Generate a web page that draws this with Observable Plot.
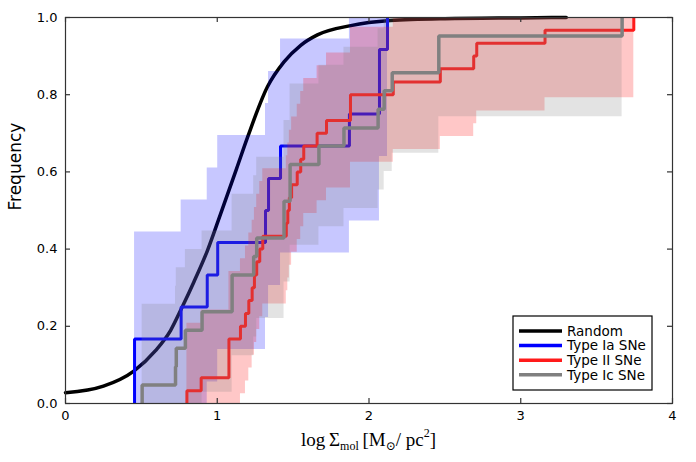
<!DOCTYPE html>
<html><head><meta charset="utf-8">
<script src="https://cdn.jsdelivr.net/npm/d3@7"></script>
<script src="https://cdn.jsdelivr.net/npm/@observablehq/plot@0.6"></script>
<style>body{margin:0;background:#fff;}</style>
</head><body><div id="chart"></div>
<script>
const xTicks = [0, 1, 2, 3, 4];
const yTicks = [0, 0.2, 0.4, 0.6, 0.8, 1.0];

// Random (black smooth CDF)
const randomX = [0, 0.25, 0.45, 0.593, 0.692, 0.769, 0.846, 0.934, 1.021, 1.127, 1.2, 1.33, 1.44, 1.55, 1.66, 1.88, 2.14, 2.5, 3.0, 3.3];
const randomY = [0.028, 0.045, 0.084, 0.137, 0.189, 0.25, 0.315, 0.395, 0.49, 0.608, 0.69, 0.82, 0.885, 0.928, 0.955, 0.979, 0.992, 0.997, 0.999, 1.0];

// Type Ia SNe
const iaX  = [0.455, 0.762, 0.934, 1.003, 1.318, 1.338, 1.417, 1.871, 2.069, 2.122];
const iaF  = [0.167, 0.25, 0.333, 0.417, 0.5, 0.583, 0.667, 0.75, 0.917, 1.0];
const iaHi = [0.444, 0.527, 0.61, 0.694, 0.777, 0.86, 0.944, 1, 1, 1];
const iaLo = [0, 0, 0.056, 0.14, 0.223, 0.306, 0.39, 0.473, 0.64, 0.723];

// Type II SNe
const iiX  = [0.80, 0.894, 1.077, 1.153, 1.186, 1.208, 1.23, 1.245, 1.26, 1.28, 1.30, 1.455, 1.465, 1.475, 1.49, 1.527, 1.55, 1.57, 1.658, 1.72, 1.878, 2.16, 2.47, 2.69, 2.71, 3.16, 3.745];
const iiF  = [0.033, 0.067, 0.167, 0.2, 0.233, 0.267, 0.3, 0.333, 0.367, 0.4, 0.433, 0.467, 0.5, 0.533, 0.567, 0.6, 0.633, 0.667, 0.7, 0.733, 0.8, 0.833, 0.867, 0.9, 0.933, 0.967, 1.0];
const iiHi = [0.208, 0.242, 0.342, 0.375, 0.408, 0.442, 0.475, 0.508, 0.542, 0.575, 0.608, 0.642, 0.675, 0.708, 0.742, 0.775, 0.808, 0.842, 0.875, 0.908, 0.975, 1, 1, 1, 1, 1, 1];
const iiLo = [0, 0, 0, 0.025, 0.058, 0.092, 0.125, 0.158, 0.192, 0.225, 0.258, 0.292, 0.325, 0.358, 0.392, 0.425, 0.458, 0.492, 0.525, 0.558, 0.625, 0.658, 0.692, 0.725, 0.758, 0.792, 0.825];

// Type Ic SNe
const icX  = [0.505, 0.725, 0.73, 0.79, 0.90, 1.098, 1.24, 1.26, 1.44, 1.48, 1.67, 1.835, 2.06, 2.10, 2.153, 2.46, 3.668];
const icF  = [0.048, 0.095, 0.143, 0.190, 0.238, 0.333, 0.381, 0.429, 0.524, 0.619, 0.667, 0.714, 0.762, 0.810, 0.857, 0.952, 1.0];
const icHi = [0.257, 0.304, 0.352, 0.399, 0.447, 0.542, 0.59, 0.638, 0.733, 0.828, 0.876, 0.923, 0.971, 1, 1, 1, 1];
const icLo = [0, 0, 0, 0, 0.029, 0.124, 0.172, 0.22, 0.315, 0.41, 0.458, 0.505, 0.553, 0.601, 0.648, 0.743, 0.791];

const legendNames = ["Random", "Type Ia SNe", "Type II SNe", "Type Ic SNe"];
const legendColors = ["black", "blue", "#ff1a1a", "gray"];

const random = randomX.map((x, i) => ({x, y: randomY[i]}));
const stepLine = (xs, fs) => [{x: xs[0], y: 0}, ...xs.map((x, i) => ({x, y: fs[i]}))];
const band = (xs, lo, hi) => xs.map((x, i) => ({x, lo: lo[i], hi: hi[i]}));

const W = 696, H = 462, mL = 65, mR = 24, mT = 17, mB = 59;
const pw = W - mL - mR, ph = H - mT - mB;
const lineOpts = {x: "x", y: "y", curve: "step-after", strokeLinejoin: "miter", strokeLinecap: "butt"};
const axisColor = "#333";

const plot = Plot.plot({
  width: W, height: H,
  marginLeft: mL, marginRight: mR, marginTop: mT, marginBottom: mB,
  style: {fontFamily: "DejaVu Sans", fontSize: "13px", color: "black", background: "white"},
  x: {domain: [0, 4]},
  y: {domain: [0, 1]},
  marks: [
    Plot.line(random, {x: "x", y: "y", stroke: "black", strokeWidth: 3.5, curve: "monotone-x"}),
    Plot.areaY(band(iaX, iaLo, iaHi), {x: "x", y1: "lo", y2: "hi", curve: "step-after", fill: "blue", fillOpacity: 0.22}),
    Plot.line(stepLine(iaX, iaF), {...lineOpts, stroke: "blue", strokeWidth: 3}),
    Plot.areaY(band(iiX, iiLo, iiHi), {x: "x", y1: "lo", y2: "hi", curve: "step-after", fill: "red", fillOpacity: 0.22}),
    Plot.line(stepLine(iiX, iiF), {...lineOpts, stroke: "#ff1a1a", strokeWidth: 3}),
    Plot.areaY(band(icX, icLo, icHi), {x: "x", y1: "lo", y2: "hi", curve: "step-after", fill: "gray", fillOpacity: 0.22}),
    Plot.line(stepLine(icX, icF), {...lineOpts, stroke: "gray", strokeWidth: 3.5}),
    Plot.frame({stroke: axisColor, strokeWidth: 1.2}),
    Plot.tickX(xTicks, {x: d => d, insetTop: ph - 5, stroke: axisColor, strokeWidth: 1.2}),
    Plot.tickX(xTicks, {x: d => d, insetBottom: ph - 5, stroke: axisColor, strokeWidth: 1.2}),
    Plot.tickY(yTicks, {y: d => d, insetRight: pw - 5, stroke: axisColor, strokeWidth: 1.2}),
    Plot.tickY(yTicks, {y: d => d, insetLeft: pw - 5, stroke: axisColor, strokeWidth: 1.2}),
    Plot.axisX(xTicks, {tickSize: 0, tickPadding: 7, fontSize: 13, tickFormat: d => String(d), label: null}),
    Plot.axisY(yTicks, {tickSize: 0, tickPadding: 8, fontSize: 13, tickFormat: d3.format(".1f"), label: null}),
    Plot.text(["Frequency"], {frameAnchor: "left", dx: -50, rotate: -90, fontSize: 17, text: d => d})
  ]
});

document.getElementById("chart").appendChild(plot);

const svg = d3.select(plot);
// x-axis title with math-like subscripts
const t = svg.append("text")
  .attr("x", mL + pw / 2).attr("y", 446)
  .attr("text-anchor", "middle")
  .style("font-family", "'Liberation Serif', 'DejaVu Serif', serif")
  .style("font-size", "19px").attr("fill", "black");
t.append("tspan").text("log\u2009\u03A3");
t.append("tspan").attr("dy", 4).style("font-size", "12px").text("mol");
t.append("tspan").attr("dy", -4).text("\u2009[M");
t.append("tspan").attr("dy", 4).style("font-size", "12px").text("\u2299");
t.append("tspan").attr("dy", -4).text("/ pc");
t.append("tspan").attr("dy", -9).style("font-size", "12px").text("2");
t.append("tspan").attr("dy", 9).text("]");

// legend
const lg = svg.append("g");
lg.append("rect").attr("x", 513).attr("y", 316).attr("width", 139).attr("height", 74)
  .attr("fill", "white").attr("stroke", "black").attr("stroke-width", 1.2);
legendNames.forEach((name, i) => {
  const yy = 331 + i * 14.6;
  lg.append("line").attr("x1", 519).attr("x2", 562).attr("y1", yy).attr("y2", yy)
    .attr("stroke", legendColors[i]).attr("stroke-width", 3.5);
  lg.append("text").attr("x", 567).attr("y", yy).attr("dy", "0.35em")
    .attr("text-anchor", "start")
    .style("font-family", "DejaVu Sans").style("font-size", "13.5px").attr("fill", "black").text(name);
});
</script>
</body></html>
